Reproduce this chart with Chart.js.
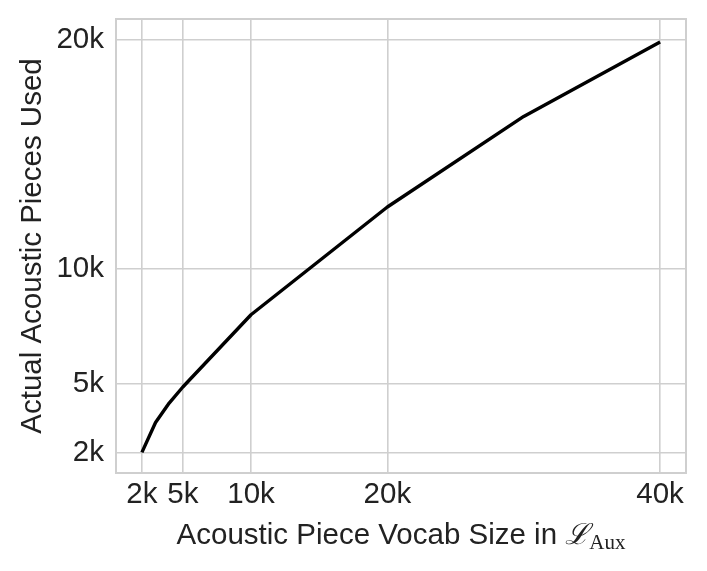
<!DOCTYPE html>
<html>
<head>
<meta charset="utf-8">
<script src="https://cdn.jsdelivr.net/npm/chart.js@4"></script>
<style>
  html, body { margin: 0; padding: 0; background: #fff; }
</style>
</head>
<body>
<canvas id="chartVocab" width="707" height="571"></canvas>
<script>
// data
const vocabSizes = [2000, 3000, 4000, 5000, 10000, 20000, 30000, 40000];
const piecesUsed = [2000, 3300, 4150, 4850, 8000, 12700, 16650, 19900];
const xTickValues = [2000, 5000, 10000, 20000, 40000];
const yTickValues = [2000, 5000, 10000, 20000];

const FONT = "'Liberation Sans', Arial, sans-serif";
const FS = 29.5;
const TEXT = '#222222';
const GRID = '#cfcfcf';

const fmtK = v => (v / 1000) + 'k';

// frame + x title with subscript
const framePlugin = {
  id: 'frame',
  afterDraw(chart) {
    const { ctx, chartArea: a } = chart;
    ctx.save();
    ctx.strokeStyle = GRID;
    ctx.lineWidth = 2;
    ctx.strokeRect(a.left, a.top, a.right - a.left, a.bottom - a.top);

    const main = 'Acoustic Piece Vocab Size in ';
    const sym = '\u2112';
    const sub = 'Aux';
    const y = 536;
    ctx.fillStyle = TEXT;
    ctx.textBaseline = 'middle';
    ctx.textAlign = 'left';
    ctx.font = FS + 'px ' + FONT;
    const w1 = ctx.measureText(main).width;
    ctx.font = 'italic 29px "DejaVu Serif", serif';
    const w2 = ctx.measureText(sym).width;
    ctx.font = '21px "Liberation Serif", serif';
    const w3 = ctx.measureText(sub).width;
    let x = (a.left + a.right) / 2 - (w1 + w2 + w3) / 2;
    ctx.font = FS + 'px ' + FONT;
    ctx.fillText(main, x, y);
    x += w1;
    ctx.font = 'italic 29px "DejaVu Serif", serif';
    ctx.fillText(sym, x, y);
    x += w2;
    ctx.font = '21px "Liberation Serif", serif';
    ctx.fillText(sub, x, y + 7);
    ctx.restore();
  }
};

const ctx = document.getElementById('chartVocab').getContext('2d');
new Chart(ctx, {
  type: 'line',
  data: {
    datasets: [{
      data: vocabSizes.map((v, i) => ({ x: v, y: piecesUsed[i] })),
      borderColor: '#000',
      borderWidth: 3.4,
      pointRadius: 0,
      tension: 0,
      borderJoinStyle: 'round',
      fill: false
    }]
  },
  options: {
    responsive: false,
    animation: false,
    devicePixelRatio: 1,
    layout: { padding: { left: 0, right: 21, top: 19, bottom: 0 } },
    plugins: { legend: { display: false }, tooltip: { enabled: false } },
    scales: {
      x: {
        type: 'linear',
        min: 100,
        max: 41900,
        afterBuildTicks: s => { s.ticks = xTickValues.map(v => ({ value: v })); },
        afterFit: s => { s.height = 98; s.paddingLeft = 0; s.paddingRight = 0; },
        grid: { color: GRID, lineWidth: 1.6, drawTicks: false },
        border: { display: false },
        ticks: { callback: fmtK, color: TEXT, font: { family: FONT, size: FS }, padding: 4, maxRotation: 0, autoSkip: false }
      },
      y: {
        min: 1100,
        max: 20900,
        afterBuildTicks: s => { s.ticks = yTickValues.map(v => ({ value: v })); },
        afterFit: s => { s.width = 116; s.paddingTop = 0; s.paddingBottom = 0; },
        grid: { color: GRID, lineWidth: 1.6, drawTicks: false },
        border: { display: false },
        ticks: { callback: fmtK, color: TEXT, font: { family: FONT, size: FS }, padding: 12, autoSkip: false },
        title: { display: true, text: 'Actual Acoustic Pieces Used', color: TEXT, font: { family: FONT, size: FS }, padding: { top: 15, bottom: 0 } }
      }
    }
  },
  plugins: [framePlugin]
});
</script>
</body>
</html>
